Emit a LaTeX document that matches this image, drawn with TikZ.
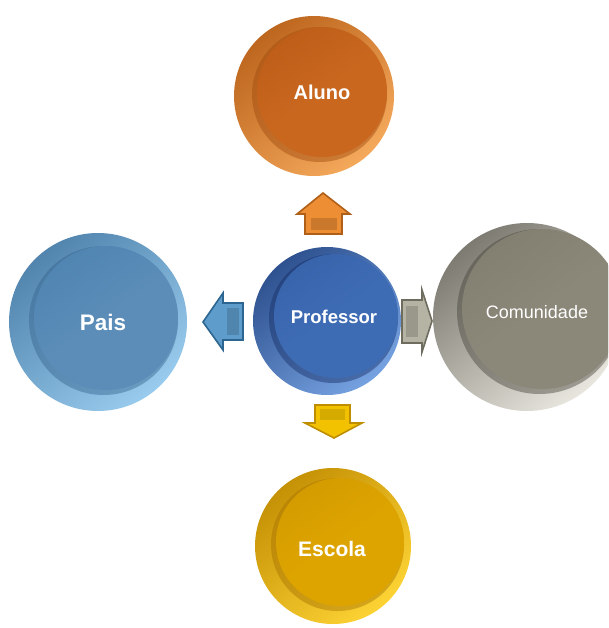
\documentclass[tikz,border=0pt]{standalone}
\usepackage{fontspec}
\setmainfont{Liberation Sans}
\usetikzlibrary{calc}
% Aluno (orange)
\definecolor{alulight}{HTML}{F39A3E}
\definecolor{aludark}{HTML}{A04A0E}
\definecolor{aluface}{HTML}{C9671F}
\definecolor{alufacedark}{HTML}{BE5E18}
% Pais (light blue)
\definecolor{paislight}{HTML}{86C2EA}
\definecolor{paisdark}{HTML}{36648E}
\definecolor{paisface}{HTML}{5B8DB8}
\definecolor{paisfacedark}{HTML}{5185B2}
% Professor (blue)
\definecolor{proflight}{HTML}{5E92DC}
\definecolor{profdark}{HTML}{152E66}
\definecolor{profface}{HTML}{3E6CB4}
\definecolor{proffacedark}{HTML}{3864AC}
% Comunidade (grey)
\definecolor{comlight}{HTML}{E4E2D8}
\definecolor{comdark}{HTML}{45433A}
\definecolor{comface}{HTML}{8B8779}
\definecolor{comfacedark}{HTML}{838072}
% Escola (gold)
\definecolor{esclight}{HTML}{FCCB10}
\definecolor{escdark}{HTML}{A87200}
\definecolor{escface}{HTML}{DDA400}
\definecolor{escfacedark}{HTML}{D49C00}
% arrows
\definecolor{arrup}{HTML}{EE8E34}
\definecolor{arrupd}{HTML}{B05F18}
\definecolor{arrleft}{HTML}{5E9CCB}
\definecolor{arrleftd}{HTML}{2C6690}
\definecolor{arrright}{HTML}{B5B3A3}
\definecolor{arrrightd}{HTML}{6E6C5E}
\definecolor{arrdown}{HTML}{F2C200}
\definecolor{arrdownd}{HTML}{BE8E00}
\tikzset{
  lbl/.style={text=white, inner sep=0pt, font=\bfseries\fontsize{#1}{#1}\selectfont},
  lblreg/.style={text=white, inner sep=0pt, font=\fontsize{#1}{#1}\selectfont},
  blockarrow/.style={line width=1.6pt, line join=miter}
}
% #1 cx, #2 cy, #3 R, #4 dx, #5 dy, #6 r, #7 colour prefix
\newcommand\mydisc[7]{%
  \shade[top color=#7dark!65!#7light, middle color=#7light, bottom color=#7light!85!white, shading angle=40]
    (#1,#2) circle[radius=#3];
  \fill[#7dark, opacity=0.45] (#1+#4-2.5,#2+#5+2.5) circle[radius=#6+2.5];
  \shade[top color=#7facedark, bottom color=#7face, middle color=#7face, shading angle=35]
    (#1+#4,#2+#5) circle[radius=#6];
}
\begin{document}
\begin{tikzpicture}[x=1pt, y=-1pt]
\useasboundingbox (0,0) rectangle (608,628);
\clip (0,0) rectangle (608,628);
% block arrows
\filldraw[blockarrow, fill=arrup, draw=arrupd]
  (323,193) -- (350,214) -- (342,214) -- (342,234) -- (305,234) -- (305,214) -- (297,214) -- cycle;
\fill[arrup!85!black] (311,218) rectangle (337,230);
\filldraw[blockarrow, fill=arrleft, draw=arrleftd]
  (203,322) -- (223,293) -- (223,303) -- (243,303) -- (243,340) -- (223,340) -- (223,350) -- cycle;
\fill[arrleft!85!black] (227,308) rectangle (239,335);
\filldraw[blockarrow, fill=arrright, draw=arrrightd]
  (432,321) -- (422,290) -- (422,300) -- (402,300) -- (402,343) -- (422,343) -- (422,352) -- cycle;
\fill[arrright!85!black] (406,306) rectangle (418,337);
\filldraw[blockarrow, fill=arrdown, draw=arrdownd]
  (334,438) -- (362,423) -- (350,423) -- (350,405) -- (315,405) -- (315,423) -- (305,423) -- cycle;
\fill[arrdown!88!black] (320,409) rectangle (345,420);
% discs
\mydisc{314}{96}{80}{8}{-4}{65}{alu}
\mydisc{98}{322}{89}{8}{-4}{72}{pais}
\mydisc{327}{321}{74}{9}{-5}{62}{prof}
\mydisc{527}{317}{94}{15}{-8}{80}{com}
\mydisc{333}{546}{78}{7}{-4}{64}{esc}
% labels
\node[lbl=20] (aluno) at (322,92) {Aluno};
\node[lbl=22.5] (pais) at (103,322) {Pais};
\node[lbl=18.5] (professor) at (334,317) {Professor};
\node[lblreg=18] (comunidade) at (537,312) {Comunidade};
\node[lbl=21] (escola) at (332,549) {Escola};
\end{tikzpicture}
\end{document}
